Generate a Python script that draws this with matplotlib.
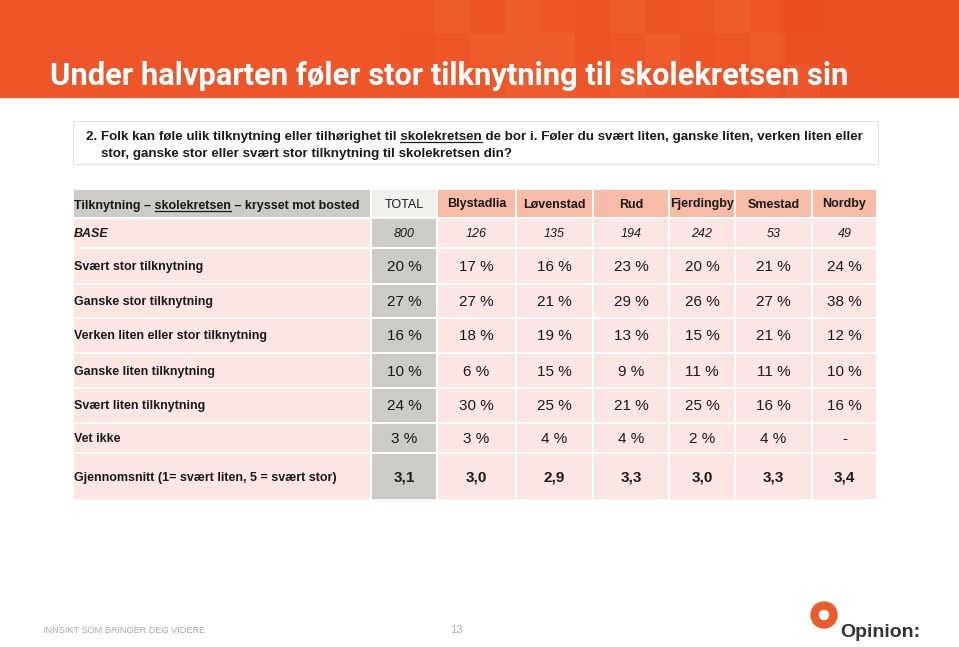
import matplotlib.pyplot as plt
from matplotlib.patches import Rectangle, Circle

# data
columns = ["TOTAL", "Blystadlia", "Løvenstad", "Rud", "Fjerdingby", "Smestad", "Nordby"]
base = [800, 126, 135, 194, 242, 53, 49]
row_labels = ["Svært stor tilknytning", "Ganske stor tilknytning",
              "Verken liten eller stor tilknytning", "Ganske liten tilknytning",
              "Svært liten tilknytning", "Vet ikke"]
svaert_stor = [20, 17, 16, 23, 20, 21, 24]
ganske_stor = [27, 27, 21, 29, 26, 27, 38]
verken = [16, 18, 19, 13, 15, 21, 12]
ganske_liten = [10, 6, 15, 9, 11, 11, 10]
svaert_liten = [24, 30, 25, 21, 25, 16, 16]
vet_ikke = [3, 3, 4, 4, 2, 4, None]
snitt = [3.1, 3.0, 2.9, 3.3, 3.0, 3.3, 3.4]
snitt_label = "Gjennomsnitt (1= svært liten, 5 = svært stor)"

title = "Under halvparten føler stor tilknytning til skolekretsen sin"
q_line1 = "2. Folk kan føle ulik tilknytning eller tilhørighet til skolekretsen de bor i. Føler du svært liten, ganske liten, verken liten eller"
q_line2 = "stor, ganske stor eller svært stor tilknytning til skolekretsen din?"
head_label = "Tilknytning – skolekretsen – krysset mot bosted"

# layout
W, H = 959, 647
col_edges = [73, 371, 437, 516, 593, 669, 735, 812, 877]
row_edges = [189, 218, 248, 284, 318, 353, 388, 423, 453, 500]

ORANGE = "#EE5629"
GREY = "#CCCBC6"
PINK = "#FCE6E3"
SALMON = "#F7BBA8"
HEAD_TOTAL = "#F1F0ED"
TXT = "#1A1A1A"

SANS = ["Liberation Sans", "DejaVu Sans"]
TITLE_FONT = ["Roboto", "Liberation Sans", "DejaVu Sans"]

fig = plt.figure(figsize=(W / 100, H / 100), dpi=100)
ax = fig.add_axes([0, 0, 1, 1])
ax.set_xlim(0, W)
ax.set_ylim(H, 0)
ax.axis("off")
r = fig.canvas.get_renderer()


def text_w(s, **kw):
    t = ax.text(0, 0, s, **kw)
    w = t.get_window_extent(r).width
    t.remove()
    return w


def underline(x, y, full, word, **kw):
    # underline `word` inside `full` drawn with baseline at y
    i = full.index(word) + len(word)
    end = text_w(full[:i], **kw)
    start = end - text_w(word, **kw)
    ax.plot([x + start, x + end], [y + 2, y + 2], color=kw.get("color", TXT), lw=0.9)


# header band with faint square pattern
ax.add_patch(Rectangle((0, 0), W, 97, color=ORANGE, zorder=0))
ax.add_patch(Rectangle((780, 0), W - 780, 97, color="#E9481E", alpha=0.35, lw=0, zorder=0.4))
# (column, row, shade) ; +1 lighter, -1 darker
tile_pattern = [(0, 1, -1), (1, 0, 1), (2, 0, -1), (2, 1, 1), (3, 0, 1), (3, 1, 1),
                (3, 2, 1), (4, 1, 1), (4, 2, 1), (5, 0, -1), (5, 1, -1), (6, 0, 1),
                (6, 2, 1), (7, 0, -1), (7, 1, 1), (8, 1, -1), (9, 0, 1), (9, 2, -1),
                (10, 1, 1), (11, 0, -1), (11, 2, 1)]
for c, rr, s in tile_pattern:
    col = "#F58A5A" if s > 0 else "#E03E14"
    ax.add_patch(Rectangle((400 + c * 35, rr * 32.5), 35, 32.5, color=col,
                           alpha=0.12, lw=0, zorder=0.5))
ax.text(50, 85, title, color="white", fontsize=22.2, fontweight="bold",
        family=TITLE_FONT, va="baseline", ha="left", zorder=2)

# question box
ax.add_patch(Rectangle((73, 121), 805, 43, facecolor="white", edgecolor="#E2E2E2", lw=0.8))
qkw = dict(fontsize=9.6, fontweight="bold", family=SANS, color=TXT)
ax.text(86, 140, q_line1, va="baseline", ha="left", **qkw)
underline(86, 140, q_line1, "skolekretsen", **qkw)
ax.text(101, 157, q_line2, va="baseline", ha="left", **qkw)

# table cells
n_rows = len(row_edges) - 1
for ri in range(n_rows):
    y0, y1 = row_edges[ri], row_edges[ri + 1]
    for ci in range(len(col_edges) - 1):
        x0, x1 = col_edges[ci], col_edges[ci + 1]
        if ri == 0:
            c = GREY if ci == 0 else (HEAD_TOTAL if ci == 1 else SALMON)
        else:
            c = GREY if ci == 1 else PINK
        ax.add_patch(Rectangle((x0, y0), x1 - x0, y1 - y0, facecolor=c,
                               edgecolor="white", lw=1.3))

centers = [(col_edges[i] + col_edges[i + 1]) / 2 for i in range(1, len(col_edges) - 1)]
ymid = [(row_edges[i] + row_edges[i + 1]) / 2 + 1 for i in range(n_rows)]
LX = col_edges[0] + 1

# header row
hkw = dict(fontsize=9, fontweight="bold", family=SANS, color=TXT)
ax.text(LX, ymid[0] + 4, head_label, va="baseline", ha="left", **hkw)
underline(LX, ymid[0] + 4, head_label, "skolekretsen", **hkw)
for i, (cx, name) in enumerate(zip(centers, columns)):
    ax.text(cx, ymid[0], name, ha="center", va="center", fontsize=9,
            fontweight="normal" if i == 0 else "bold", family=SANS, color=TXT)

# base row
ax.text(LX, ymid[1], "BASE", ha="left", va="center", fontsize=9,
        fontweight="bold", style="italic", family=SANS, color=TXT)
for cx, b in zip(centers, base):
    ax.text(cx, ymid[1], str(b), ha="center", va="center", fontsize=9,
            style="italic", family=SANS, color=TXT)

# percentage rows
pct_rows = [svaert_stor, ganske_stor, verken, ganske_liten, svaert_liten, vet_ikke]
for k, (lab, vals) in enumerate(zip(row_labels, pct_rows)):
    y = ymid[2 + k]
    ax.text(LX, y, lab, ha="left", va="center", fontsize=9, fontweight="bold",
            family=SANS, color=TXT)
    for cx, v in zip(centers, vals):
        s = "-" if v is None else f"{v} %"
        ax.text(cx, y, s, ha="center", va="center", fontsize=11, family=SANS, color=TXT)

# mean row
y = ymid[-1]
ax.text(LX, y, snitt_label, ha="left", va="center", fontsize=9, fontweight="bold",
        family=SANS, color=TXT)
for cx, v in zip(centers, snitt):
    ax.text(cx, y, f"{v:.1f}".replace(".", ","), ha="center", va="center",
            fontsize=11, fontweight="bold", family=SANS, color=TXT)

# footer
ax.text(43, 633, "INNSIKT SOM BRINGER DEG VIDERE", ha="left", va="baseline",
        fontsize=6.6, family=SANS, color="#A8A8A8")
ax.text(456, 633, "13", ha="center", va="baseline", fontsize=8, family=SANS, color="#A8A8A8")
ax.add_patch(Circle((824, 615), 9.5, facecolor="none", edgecolor="#EE5A2A", lw=6))
ax.text(840, 637, "Opinion:", ha="left", va="baseline", fontsize=14,
        fontweight="bold", family=SANS, color="#333333")

fig.savefig("out.png", dpi=100)
